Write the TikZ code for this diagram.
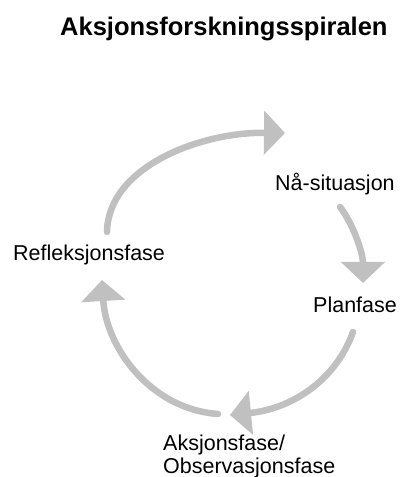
\documentclass[tikz,border=0pt]{standalone}
\usepackage{fontspec}
\setmainfont{Liberation Sans}
\usetikzlibrary{arrows.meta}
\definecolor{arrowgray}{HTML}{C0C0C0}
\begin{document}
\begin{tikzpicture}[x=1pt,y=1pt,
  cyclearrow/.style={draw=arrowgray, line width=6.5pt, line cap=round,
    -{Triangle[length=21pt,width=43pt]}, arrowgray},
  label/.style={font=\fontsize{21.5}{24}\selectfont, inner sep=0pt, anchor=base west, align=left},
  titlestyle/.style={font=\fontsize{25.5}{30}\selectfont\bfseries, inner sep=0pt, anchor=base west}]
\useasboundingbox (0,0) rectangle (402,477);
\fill[white] (0,0) rectangle (402,477);
\node[titlestyle] (title) at (60,441) {Aksjonsforskningsspiralen};
\node[label] (naa) at (275,286) {Nå-situasjon};
\node[label] (refl) at (13,216) {Refleksjonsfase};
\node[label] (plan) at (313,164) {Planfase};
\node[label] (aksj) at (163,3) {Aksjonsfase/\\Observasjonsfase};
% arrow end points
\coordinate (a1s) at (107,245);
\coordinate (a1e) at (285,344);
\coordinate (a2s) at (340,270);
\coordinate (a2e) at (363,194);
\coordinate (a3s) at (353,145);
\coordinate (a3e) at (230,62);
\coordinate (a4s) at (218,63);
\coordinate (a4e) at (102,197);
\draw[cyclearrow] (a1s) .. controls (108,310) and (200,345) .. (a1e);
\draw[cyclearrow] (a2s) .. controls (352,255) and (363,225) .. (a2e);
\draw[cyclearrow] (a3s) .. controls (335,95) and (290,68) .. (a3e);
\draw[cyclearrow] (a4s) .. controls (150,68) and (106,130) .. (a4e);
\end{tikzpicture}
\end{document}
